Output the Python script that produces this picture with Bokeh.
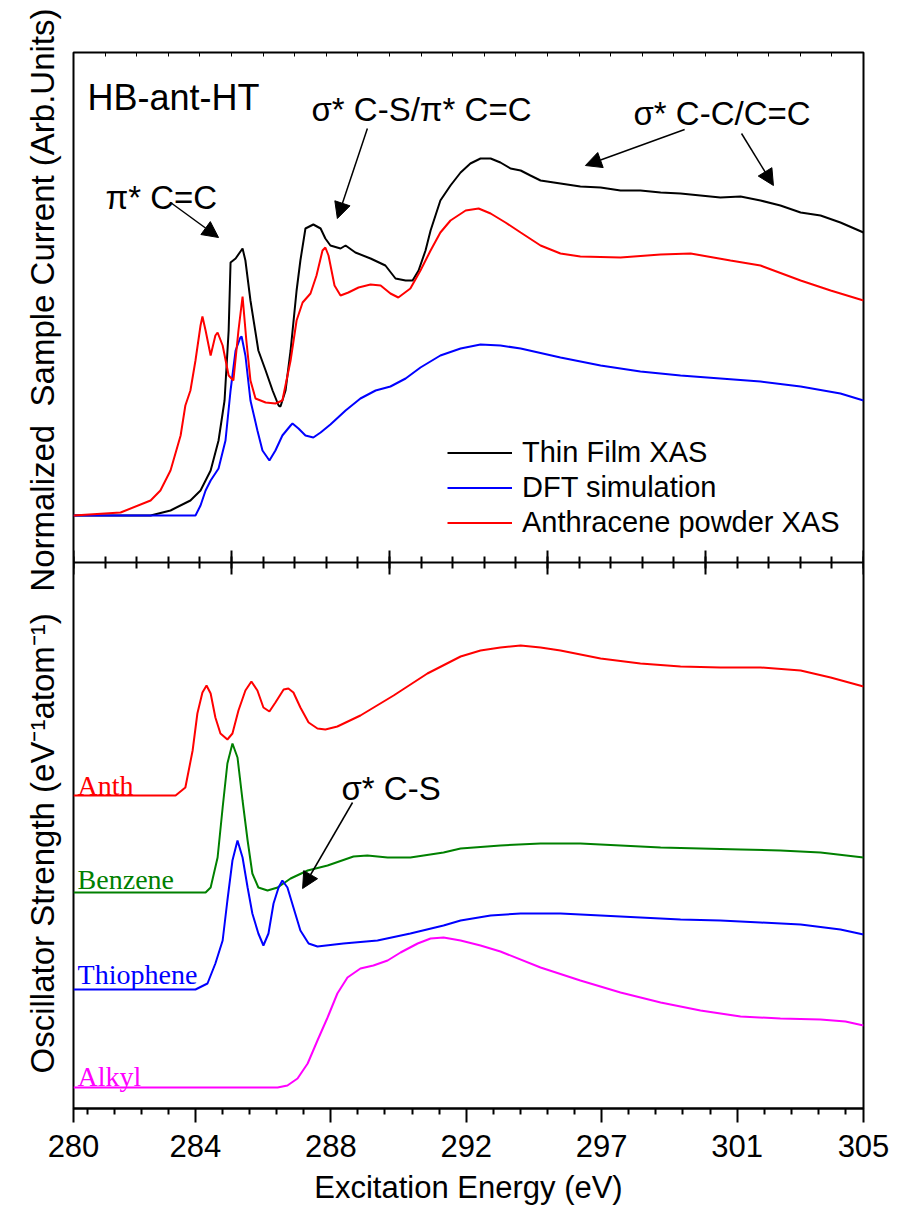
from bokeh.plotting import figure
from bokeh.models import (Range1d, LinearAxis, FixedTicker, SingleIntervalTicker, Label,
                          Arrow, NormalHead, Legend, LegendItem, Title)
from bokeh.embed import file_html
from bokeh.resources import INLINE

# ---------------- data (top panel: normalized sample current) ----------------
film_x = [280.00, 282.44, 283.07, 283.70, 284.02, 284.34, 284.59, 284.78, 284.91, 284.97, 285.13,
          285.35, 285.44, 285.60, 285.85, 286.08, 286.30, 286.49, 286.55, 286.71, 286.87, 287.06,
          287.18, 287.34, 287.59, 287.82, 287.97, 288.13, 288.45, 288.61, 288.92, 289.40, 289.87,
          290.19, 290.51, 290.73, 290.92, 291.14, 291.30, 291.61, 291.93, 292.25, 292.56, 292.88,
          293.20, 293.51, 293.83, 294.15, 294.46, 294.78, 295.41, 296.04, 296.68, 297.31, 297.94,
          298.58, 299.21, 299.84, 300.47, 301.11, 301.74, 302.37, 303.01, 303.64, 304.27, 305.00]
film_y = [0.00, 0.00, 0.05, 0.15, 0.25, 0.45, 0.75, 1.15, 1.85, 2.53, 2.57,
          2.67, 2.55, 2.15, 1.65, 1.45, 1.25, 1.10, 1.09, 1.25, 1.65, 2.25,
          2.55, 2.87, 2.91, 2.87, 2.77, 2.70, 2.67, 2.70, 2.63, 2.57, 2.50,
          2.37, 2.35, 2.35, 2.45, 2.65, 2.85, 3.15, 3.30, 3.43, 3.52, 3.57,
          3.57, 3.53, 3.47, 3.45, 3.40, 3.35, 3.32, 3.29, 3.28, 3.25, 3.25,
          3.23, 3.22, 3.20, 3.18, 3.19, 3.15, 3.10, 3.03, 3.00, 2.93, 2.83]

powder_x = [280.00, 281.49, 282.44, 282.75, 283.07, 283.39, 283.54, 283.70, 283.86, 284.02, 284.08,
            284.18, 284.34, 284.49, 284.56, 284.72, 284.91, 285.06, 285.22, 285.35, 285.47, 285.60,
            285.76, 286.08, 286.39, 286.61, 286.87, 287.06, 287.25, 287.50, 287.69, 287.88, 287.97,
            288.07, 288.26, 288.45, 288.70, 289.02, 289.40, 289.72, 290.03, 290.28, 290.66, 290.98,
            291.30, 291.61, 291.93, 292.41, 292.82, 293.20, 293.67, 294.15, 294.78, 295.41, 296.04,
            297.31, 298.58, 299.53, 300.79, 301.74, 303.01, 303.96, 305.00]
powder_y = [0.00, 0.03, 0.15, 0.25, 0.45, 0.80, 1.10, 1.25, 1.55, 1.90, 1.99,
            1.85, 1.60, 1.80, 1.83, 1.70, 1.40, 1.35, 1.85, 2.19, 1.75, 1.35,
            1.17, 1.13, 1.12, 1.15, 1.55, 1.95, 2.13, 2.22, 2.40, 2.65, 2.68,
            2.60, 2.30, 2.20, 2.23, 2.28, 2.31, 2.30, 2.22, 2.18, 2.27, 2.45,
            2.65, 2.83, 2.95, 3.05, 3.07, 3.02, 2.93, 2.83, 2.70, 2.62, 2.59,
            2.58, 2.61, 2.62, 2.55, 2.50, 2.35, 2.25, 2.15]

dft_x = [280.00, 283.86, 284.02, 284.18, 284.34, 284.59, 284.81, 284.97, 285.13, 285.28, 285.32,
         285.44, 285.60, 285.82, 285.98, 286.20, 286.39, 286.61, 286.87, 286.93, 287.12, 287.34,
         287.59, 287.82, 288.13, 288.61, 289.08, 289.56, 290.03, 290.51, 290.98, 291.61, 292.25,
         292.88, 293.51, 294.15, 295.41, 296.68, 297.94, 299.21, 300.47, 301.74, 303.01, 304.27, 305.00]
dft_y = [0.00, 0.00, 0.10, 0.25, 0.35, 0.47, 0.75, 1.25, 1.65, 1.78, 1.79,
         1.60, 1.15, 0.85, 0.65, 0.55, 0.65, 0.80, 0.90, 0.92, 0.87, 0.80,
         0.78, 0.83, 0.91, 1.05, 1.17, 1.25, 1.29, 1.37, 1.48, 1.60, 1.67,
         1.71, 1.70, 1.67, 1.58, 1.50, 1.44, 1.40, 1.37, 1.34, 1.29, 1.22, 1.15]

# ---------------- data (bottom panel: oscillator strength, stacked) ----------------
anth_x = [280.00, 283.23, 283.54, 283.77, 283.92, 284.08, 284.21, 284.34, 284.49, 284.65, 284.87,
          285.03, 285.22, 285.44, 285.63, 285.82, 286.01, 286.20, 286.39, 286.65, 286.80, 286.96,
          287.18, 287.44, 287.72, 287.97, 288.35, 289.08, 290.13, 291.20, 292.25, 292.88, 293.51,
          294.15, 294.78, 295.41, 296.68, 297.94, 299.21, 300.47, 301.74, 303.01, 303.96, 305.00]
anth_y = [2.92, 2.92, 3.00, 3.37, 3.74, 3.95, 4.02, 3.94, 3.70, 3.54, 3.48,
          3.54, 3.77, 3.97, 4.06, 3.97, 3.80, 3.76, 3.85, 3.98, 3.99, 3.95,
          3.80, 3.65, 3.59, 3.58, 3.61, 3.72, 3.92, 4.14, 4.31, 4.37, 4.40,
          4.42, 4.40, 4.37, 4.29, 4.24, 4.21, 4.20, 4.20, 4.17, 4.10, 4.01]

benz_x = [280.00, 284.18, 284.34, 284.56, 284.72, 284.87, 285.03, 285.19, 285.35, 285.51, 285.66,
          285.85, 286.14, 286.46, 286.87, 287.41, 288.04, 288.86, 289.30, 289.94, 290.66, 291.71,
          292.25, 293.51, 294.78, 296.04, 297.31, 298.58, 299.84, 301.11, 302.37, 303.64, 305.00]
benz_y = [1.95, 1.95, 2.00, 2.30, 2.80, 3.24, 3.44, 3.30, 2.87, 2.47, 2.14,
          2.00, 1.97, 2.00, 2.09, 2.17, 2.22, 2.31, 2.32, 2.30, 2.30, 2.35,
          2.39, 2.42, 2.44, 2.44, 2.42, 2.40, 2.39, 2.38, 2.37, 2.35, 2.30]

thio_x = [280.00, 283.86, 284.24, 284.49, 284.72, 284.87, 285.03, 285.19, 285.35, 285.51, 285.66,
          285.85, 286.01, 286.17, 286.33, 286.49, 286.61, 286.77, 286.96, 287.18, 287.44, 287.72,
          288.54, 289.62, 290.66, 291.71, 292.25, 293.20, 294.15, 295.41, 296.68, 297.94, 299.21,
          300.47, 301.74, 303.01, 304.27, 305.00]
thio_y = [0.98, 0.98, 1.04, 1.24, 1.47, 1.87, 2.27, 2.47, 2.30, 2.00, 1.74,
          1.54, 1.42, 1.54, 1.84, 2.00, 2.07, 2.00, 1.80, 1.57, 1.44, 1.41,
          1.44, 1.47, 1.54, 1.62, 1.67, 1.72, 1.74, 1.74, 1.72, 1.70, 1.68,
          1.67, 1.65, 1.63, 1.58, 1.53]

alkyl_x = [280.00, 286.46, 286.77, 287.09, 287.41, 287.72, 288.04, 288.35, 288.67, 289.08, 289.49,
           289.94, 290.35, 290.89, 291.30, 291.71, 292.25, 292.88, 293.51, 294.78, 296.04, 297.31,
           298.58, 299.84, 301.11, 302.37, 303.64, 304.43, 305.00]
alkyl_y = [0.00, 0.00, 0.02, 0.09, 0.24, 0.47, 0.70, 0.94, 1.10, 1.19, 1.22,
           1.27, 1.35, 1.44, 1.49, 1.50, 1.47, 1.42, 1.36, 1.20, 1.07, 0.95,
           0.85, 0.77, 0.71, 0.69, 0.68, 0.66, 0.62]

legend_labels = ["Thin Film XAS", "DFT simulation", "Anthracene powder XAS"]
series_names = ["Anth", "Benzene", "Thiophene", "Alkyl"]
series_colors = ["#ff0000", "#008000", "#0000ff", "#ff00ff"]
series_label_y = [3.02, 2.08, 1.13, 0.11]

# bottom axis: evenly spaced major ticks, labels rounded to whole eV
tick_values = [280.0, 283.857, 288.143, 292.429, 296.714, 301.0, 305.0]
tick_labels = ["280", "284", "288", "292", "297", "301", "305"]
minor_step = 6 / 7

FONT = "Liberation Sans"
SERIF = "Liberation Serif"

p = figure(frame_width=790, frame_height=1056, min_border_left=73, min_border_right=34,
           min_border_top=52, min_border_bottom=104, output_backend="svg",
           toolbar_location=None, x_range=Range1d(280, 305), y_range=Range1d(-0.21, 10.35),
           x_axis_type=None, y_axis_type=None)
p.extra_y_ranges = {"top": Range1d(-5.93, 4.63)}
p.grid.visible = False
p.outline_line_color = "black"
p.outline_line_width = 2
p.background_fill_color = "white"
p.border_fill_color = "white"

# y titles (left side): inner = oscillator strength, outer pulled to the same column
t_bot = Title(text="Oscillator Strength (eV\u207b\u00b9atom\u207b\u00b9)", align="left", offset=35,
              vertical_align="bottom", standoff=26, text_font=FONT, text_font_size="33px",
              text_font_style="normal", text_color="black")
t_top = Title(text="Normalized\u00a0 Sample Current (Arb.Units)", align="right", offset=-44,
              vertical_align="bottom", standoff=-104, text_font=FONT, text_font_size="33px",
              text_font_style="normal", text_color="black")
p.add_layout(t_bot, "left")
p.add_layout(t_top, "left")

# bottom axis
minor = []
m = tick_values[1] - 4 * minor_step
while m < 305:
    if all(abs(m - t) > 1e-3 for t in tick_values):
        minor.append(round(m, 4))
    m += minor_step
xaxis = LinearAxis(ticker=FixedTicker(ticks=tick_values, minor_ticks=minor),
                   major_label_overrides=dict(zip(tick_values, tick_labels)),
                   axis_label="Excitation Energy (eV)")
xaxis.axis_line_width = 2
xaxis.major_tick_line_width = 2
xaxis.minor_tick_line_width = 2
xaxis.major_tick_in = 0
xaxis.major_tick_out = 14
xaxis.minor_tick_in = 0
xaxis.minor_tick_out = 6
xaxis.major_label_standoff = 12
xaxis.major_label_text_font = FONT
xaxis.major_label_text_font_size = "31px"
xaxis.major_label_text_color = "black"
xaxis.axis_label_text_font = FONT
xaxis.axis_label_text_font_size = "31px"
xaxis.axis_label_text_font_style = "normal"
xaxis.axis_label_text_color = "black"
xaxis.axis_label_standoff = 10
p.add_layout(xaxis, "below")

# panel separator axis with crossing ticks
mid = LinearAxis(fixed_location=5.25, ticker=SingleIntervalTicker(interval=5, num_minor_ticks=5))
mid.axis_line_width = 2
mid.major_tick_line_width = 2
mid.minor_tick_line_width = 2
mid.major_tick_in = 12
mid.major_tick_out = 12
mid.minor_tick_in = 6
mid.minor_tick_out = 6
mid.major_label_text_font_size = "0px"
mid.major_label_text_alpha = 0
p.add_layout(mid, "below")

# top axis (small inward ticks)
top_axis = LinearAxis(ticker=SingleIntervalTicker(interval=1, num_minor_ticks=0))
top_axis.axis_line_color = None
top_axis.major_tick_in = 4
top_axis.major_tick_out = 0
top_axis.major_tick_line_width = 1
top_axis.major_label_text_font_size = "0px"
top_axis.major_label_text_alpha = 0
p.add_layout(top_axis, "above")

# top panel curves
r_film = p.line(film_x, film_y, color="black", line_width=2, y_range_name="top")
r_dft = p.line(dft_x, dft_y, color="#0000ff", line_width=2, y_range_name="top")
r_pow = p.line(powder_x, powder_y, color="#ff0000", line_width=2, y_range_name="top")

# bottom panel curves
for xs, ys, c in [(anth_x, anth_y, series_colors[0]), (benz_x, benz_y, series_colors[1]),
                  (thio_x, thio_y, series_colors[2]), (alkyl_x, alkyl_y, series_colors[3])]:
    p.line(xs, ys, color=c, line_width=2)

for name, c, yy in zip(series_names, series_colors, series_label_y):
    p.add_layout(Label(x=280.13, y=yy, text=name, text_color=c, text_font=SERIF,
                       text_font_size="28px", text_baseline="alphabetic", text_align="left"))

legend = Legend(items=[LegendItem(label=legend_labels[0], renderers=[r_film]),
                       LegendItem(label=legend_labels[1], renderers=[r_dft]),
                       LegendItem(label=legend_labels[2], renderers=[r_pow])],
                location=(374, 568), padding=0, margin=0, spacing=0,
                glyph_width=65, glyph_height=35, label_height=35, label_standoff=10,
                label_text_font=FONT, label_text_font_size="29px", label_text_color="black",
                border_line_color=None, background_fill_alpha=0)
p.add_layout(legend, "center")

ann = dict(text_font=FONT, text_font_size="33px", text_color="black",
           text_baseline="alphabetic", text_align="left", y_range_name="top")
p.add_layout(Label(x=280.44, y=4.18, text="HB-ant-HT", **{**ann, "text_font_size": "36px"}))
p.add_layout(Label(x=287.53, y=4.06, text="σ* C-S/π* C=C", **ann))
p.add_layout(Label(x=281.01, y=3.18, text="π* C=C", **ann))
p.add_layout(Label(x=297.72, y=4.02, text="σ* C-C/C=C", **ann))
p.add_layout(Label(x=288.48, y=2.99, text="σ* C-S", text_font=FONT, text_font_size="33px",
                   text_color="black", text_baseline="alphabetic", text_align="left"))


def arrow(x0, y0, x1, y1, rng="top"):
    head = NormalHead(size=16, fill_color="black", line_color="black")
    kw = dict(y_range_name=rng) if rng else {}
    p.add_layout(Arrow(end=head, x_start=x0, y_start=y0, x_end=x1, y_end=y1,
                       line_width=1.5, line_color="black", **kw))


arrow(283.07, 3.13, 284.59, 2.78)
arrow(289.30, 3.87, 288.35, 2.97)
arrow(299.34, 3.86, 296.20, 3.50)
arrow(301.14, 3.82, 302.15, 3.30)
arrow(288.83, 2.85, 287.25, 1.99, rng=None)

open("out.html", "w").write(file_html(p, INLINE))
